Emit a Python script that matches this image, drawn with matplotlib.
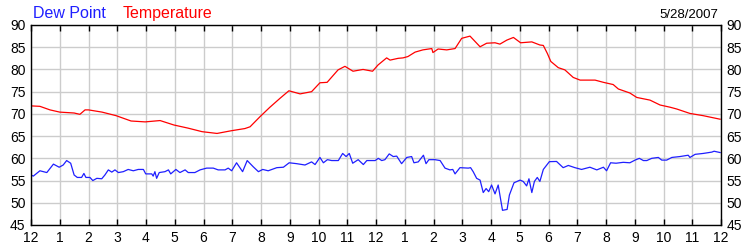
import matplotlib.pyplot as plt

"""
Dew point and temperature over one day, 5/28/2007
"""

DATE = '5/28/2007'

# hours since midnight, temperature in F
TEMP_HOURS = [0, 0.31, 0.66, 1.0, 1.5, 1.7, 1.88, 2.0, 2.47, 2.96, 3.48, 3.97,
              4.49, 4.97, 5.46, 5.95, 6.47, 6.96, 7.44, 7.62, 7.97, 8.31, 8.66,
              8.97, 9.36, 9.76, 10.05, 10.3, 10.68, 10.92, 11.2, 11.55, 11.88,
              12.07, 12.37, 12.49, 12.77, 12.94, 13.11, 13.36, 13.63, 13.94,
              13.98, 14.16, 14.46, 14.75, 14.98, 15.27, 15.62, 15.85, 16.14,
              16.31, 16.55, 16.78, 17.03, 17.42, 17.7, 17.82, 17.96, 18.08,
              18.34, 18.57, 18.86, 19.1, 19.62, 19.91, 20.25, 20.43, 20.83,
              21.07, 21.53, 21.88, 22.23, 22.46, 22.92, 23.38, 23.97]
TEMP = [71.8, 71.7, 70.9, 70.4, 70.2, 69.9, 70.9, 70.9, 70.4, 69.6, 68.4, 68.2,
        68.5, 67.5, 66.8, 66.0, 65.6, 66.2, 66.7, 67.1, 69.4, 71.5, 73.5,
        75.2, 74.5, 75.0, 77.0, 77.1, 79.9, 80.7, 79.6, 80.0, 79.6,
        81.0, 82.6, 82.1, 82.5, 82.6, 82.9, 83.9, 84.4, 84.7,
        83.8, 84.6, 84.4, 84.7, 87.0, 87.5, 85.1, 85.9, 86.0,
        85.7, 86.6, 87.2, 86.0, 86.2, 85.5, 85.4, 83.6, 81.8,
        80.4, 79.9, 78.2, 77.6, 77.6, 77.1, 76.6, 75.6, 74.7,
        73.7, 73.1, 72.0, 71.5, 71.1, 70.1, 69.6, 68.8]

DEW_HOURS = [0, 0.08, 0.31, 0.55, 0.78, 0.98, 1.12, 1.24, 1.38, 1.5, 1.61, 1.76,
             1.84, 1.91, 2.05, 2.15, 2.29, 2.46, 2.57, 2.69, 2.81, 2.92, 3.04,
             3.21, 3.38, 3.56, 3.73, 3.91, 3.99, 4.2, 4.25, 4.31, 4.37, 4.46,
             4.66, 4.78, 4.86, 5.04, 5.18, 5.36, 5.47, 5.7, 5.88, 6.11, 6.34,
             6.51, 6.75, 6.86, 6.98, 7.15, 7.36, 7.52, 7.73, 7.91, 8.06, 8.25,
             8.55, 8.78, 8.98, 9.24, 9.53, 9.76, 9.88, 10.05, 10.17, 10.31,
             10.46, 10.69, 10.84, 10.96, 11.07, 11.19, 11.38, 11.56, 11.68,
             11.97, 12.08, 12.2, 12.31, 12.46, 12.6, 12.72, 12.89, 13.07,
             13.24, 13.32, 13.47, 13.65, 13.74, 13.84, 14.05, 14.23, 14.4,
             14.57, 14.67, 14.75, 14.92, 15.21, 15.29, 15.38, 15.5, 15.62,
             15.73, 15.83, 15.92, 16.02, 16.14, 16.25, 16.4, 16.56, 16.64,
             16.8, 17.01, 17.12, 17.24, 17.32, 17.42, 17.51, 17.61, 17.7,
             17.82, 18.03, 18.28, 18.51, 18.69, 18.92, 19.15, 19.44, 19.68,
             19.91, 20.02, 20.16, 20.35, 20.6, 20.83, 21.01, 21.16, 21.3,
             21.42, 21.59, 21.82, 21.94, 22.11, 22.29, 22.57, 22.86, 22.92,
             23.1, 23.38, 23.68, 23.76, 23.97]
DEW = [56.25, 56.0, 57.2, 56.8, 58.7, 58.0, 58.5, 59.5, 58.9, 56.25, 55.7, 55.7,
       56.6, 55.7, 55.7, 55.0, 55.5, 55.4, 56.25, 57.4, 56.9, 57.4, 56.8,
       57.0, 57.5, 57.2, 57.5, 57.5, 56.5, 56.5, 56.0, 57.0, 55.5, 56.8,
       57.0, 57.4, 56.5, 57.5, 56.8, 57.4, 56.8, 56.8, 57.4, 57.8, 57.8,
       57.4, 57.4, 57.8, 57.2, 59.0, 57.0, 59.5, 58.1, 57.0, 57.5, 57.2,
       57.9, 58.0, 59.0, 58.8, 58.5, 59.2, 58.6, 60.2, 59.0, 59.7,
       59.5, 59.5, 61.1, 60.4, 61.1, 58.9, 59.7, 58.6, 59.5,
       59.5, 60.0, 59.5, 59.7, 61.0, 60.4, 60.5, 58.8, 60.2,
       60.4, 59.0, 59.2, 60.7, 58.8, 59.7, 59.7, 59.5, 57.8,
       57.4, 57.5, 56.5, 57.9, 57.8, 57.9, 57.0, 55.5, 55.1,
       52.3, 53.2, 52.5, 54.0, 52.0, 54.0, 48.3, 48.5, 51.75,
       54.5, 55.1, 54.8, 53.8, 55.4, 52.3, 54.8, 55.7, 54.8,
       57.5, 59.25, 59.3, 57.9, 58.4, 57.9, 57.5, 58.0, 57.4,
       58.0, 57.2, 59.0, 58.9, 59.1, 59.0, 59.6, 60.0, 59.5,
       59.5, 60.0, 60.2, 59.6, 59.6, 60.2, 60.4, 60.7, 60.2,
       60.9, 61.1, 61.4, 61.6, 61.3]

HOUR_TICKS = list(range(25))
HOUR_LABELS = [str(h % 12 if h % 12 else 12) for h in HOUR_TICKS]
Y_TICKS = list(range(45, 91, 5))

plt.rcParams['font.family'] = ['Liberation Sans', 'DejaVu Sans']

fig = plt.figure(figsize=(7.5, 2.5), dpi=100)
ax = fig.add_axes([31 / 750, 0.1, 690 / 750, 0.8])

ax.plot(TEMP_HOURS, TEMP, color='#ff0000', lw=0.9)
ax.plot(DEW_HOURS, DEW, color='#1f1fff', lw=0.9)

ax.set_xlim(0, 24)
ax.set_ylim(45, 90)
ax.set_xticks(HOUR_TICKS)
ax.set_xticklabels(HOUR_LABELS)
ax.set_yticks(Y_TICKS)
ax.grid(True, color='#cccccc', lw=1)
ax.set_axisbelow(True)

ax.tick_params(axis='x', direction='in', length=4, width=1, top=True,
               labelsize=10, pad=4, colors='black')
ax.tick_params(axis='y', length=0, left=True, right=True, labelleft=True,
               labelright=True, labelsize=10, pad=4)
for s in ax.spines.values():
    s.set_linewidth(1)
    s.set_color('black')

fig.text(33 / 750, 1 - 17.5 / 250, 'Dew Point', color='#1f1fff', fontsize=11.5,
         va='baseline', ha='left')
fig.text(123 / 750, 1 - 17.5 / 250, 'Temperature', color='#ff0000', fontsize=11.5,
         va='baseline', ha='left')
fig.text(718 / 750, 1 - 17.5 / 250, DATE, color='black', fontsize=9.5,
         va='baseline', ha='right')

fig.savefig('out.png', dpi=100)
